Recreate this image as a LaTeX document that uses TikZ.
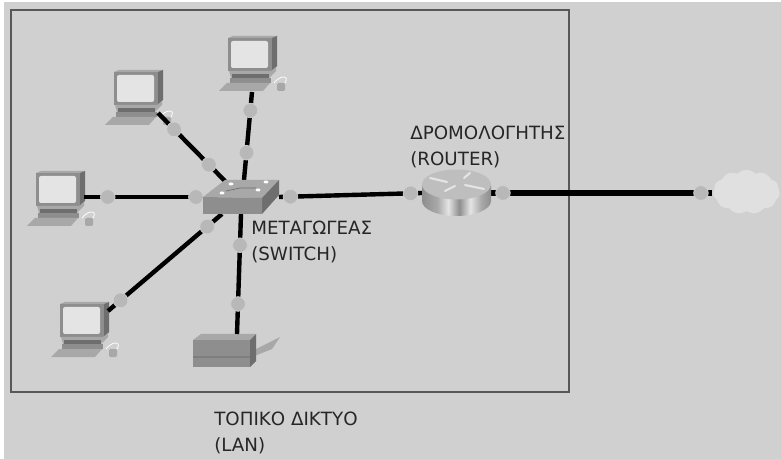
\documentclass[tikz,border=0pt]{standalone}
\usepackage{fontspec}
\setmainfont{DejaVu Sans}
\usepackage{xcolor}
\usepackage{tikz}
\usetikzlibrary{shapes.symbols}
\definecolor{panelgray}{HTML}{D0D0D0}
\definecolor{framegray}{HTML}{585858}
\definecolor{portgray}{HTML}{B8B8B8}
\definecolor{bodygray}{HTML}{8E8E8E}
\definecolor{darkgray}{HTML}{6E6E6E}
\definecolor{lightgray}{HTML}{A8A8A8}
\definecolor{screengray}{HTML}{E4E4E4}
\pgfdeclarehorizontalshading{drumshade}{100bp}{
  color(0bp)=(bodygray); color(25bp)=(bodygray); color(36bp)=(lightgray);
  color(44bp)=(screengray); color(52bp)=(bodygray); color(60bp)=(screengray);
  color(68bp)=(lightgray); color(75bp)=(bodygray); color(100bp)=(darkgray)}
\tikzset{
  link/.style={line width=3.3pt, black},
  wanlink/.style={line width=4.2pt, black},
  port/.style={circle, fill=portgray, draw=panelgray, line width=.5pt,
               minimum size=11pt, inner sep=0pt},
  lbl/.style={anchor=north west, align=left, inner sep=0pt, text=black!85,
              font=\fontsize{13.7}{19.5}\selectfont},
  pics/pccomp/.style={code={
    \fill[lightgray] (0,2) -- (5,0) -- (49,0) -- (44,2) -- cycle;
    \fill[darkgray] (44,2) -- (49,0) -- (49,30) -- (44,35) -- cycle;
    \fill[bodygray] (0,2) rectangle (44,35);
    \fill[screengray, rounded corners=1.5pt] (3,5) rectangle (40,32);
    \fill[lightgray] (1,35) -- (43,35) -- (48,31) -- (48,35) -- (41,42) -- (3,42) -- cycle;
    \fill[darkgray] (4,38) rectangle (41,42);
    \fill[bodygray] (2,42) rectangle (43,47);
    \fill[lightgray] (-9,55) -- (-1,47) -- (42,47) -- (35,55) -- cycle;
    \fill[lightgray, rounded corners=1pt] (49,47) rectangle (57,55);
    \draw[white, line width=.6pt] (46,47) .. controls (52,39) and (62,39) .. (57,47);
  }}
}
\begin{document}
\begin{tikzpicture}[x=.75pt,y=-.75pt]
  \useasboundingbox (0,0) rectangle (781,459);
  \fill[white] (0,0) rectangle (781,459);
  \fill[panelgray] (4,2) rectangle (781,459);
  \draw[framegray, line width=1.1pt] (11,10) rectangle (569,392);

  % computers
  \pic at (228,36) {pccomp};
  \pic at (114,70) {pccomp};
  \pic at (36,171) {pccomp};
  \pic at (60,302) {pccomp};

  % printer
  \fill[lightgray] (252,351) -- (280,337) -- (272,349) -- (252,357) -- cycle;
  \fill[lightgray] (193,340) -- (201,334) -- (256,334) -- (250,340) -- cycle;
  \fill[darkgray] (250,340) -- (256,334) -- (256,361) -- (250,367) -- cycle;
  \fill[bodygray] (193,340) rectangle (250,367);
  \fill[darkgray!50!bodygray] (193,356) rectangle (250,358);

  \coordinate (pcA) at (252,92);
  \coordinate (pcB) at (158,113);
  \coordinate (pcC) at (84,197);
  \coordinate (pcD) at (108,311);
  \coordinate (printer) at (237,334);
  \coordinate (swA) at (244,180);
  \coordinate (swB) at (225,181);
  \coordinate (swC) at (203,197);
  \coordinate (swD) at (222,214);
  \coordinate (swE) at (241,214);
  \coordinate (swF) at (279,197);
  \coordinate (rtA) at (422,193);
  \coordinate (rtB) at (491,193);
  \coordinate (wan) at (712,193);

  \draw[link] (pcA) -- node[port,pos=.21] (portA1) {} node[port,pos=.69] (portA2) {} (swA);
  \draw[link] (pcB) -- node[port,pos=.24] (portB1) {} node[port,pos=.76] (portB2) {} (swB);
  \draw[link] (pcC) -- node[port,pos=.20] (portC1) {} node[port,pos=.94] (portC2) {} (swC);
  \draw[link] (pcD) -- node[port,pos=.11] (portD1) {} node[port,pos=.87] (portD2) {} (swD);
  \draw[link] (printer) -- node[port,pos=.25] (portE1) {} node[port,pos=.74] (portE2) {} (swE);
  \draw[link] (swF) -- node[port,pos=.08] (portF1) {} node[port,pos=.92] (portF2) {} (rtA);
  \draw[wanlink] (rtB) -- node[port,pos=.054] (portG1) {} node[port,pos=.95] (portG2) {} (wan);

  % switch
  \fill[lightgray] (203,197) -- (225,180) -- (279,180) -- (262,198) -- cycle;
  \fill[darkgray] (262,198) -- (279,180) -- (279,195) -- (262,214) -- cycle;
  \fill[bodygray] (203,197) -- (262,198) -- (262,214) -- (203,214) -- cycle;
  \draw[darkgray, line width=.5pt] (226,191) -- (240,188) -- (256,188);
  \foreach \lx/\ly in {231/184,266/182,222/193,258/190}
    \fill[white] (\lx,\ly) ellipse (2.5 and 1.5);

  % router
  \shade[shading=drumshade] (422,185) -- (422,201) arc[start angle=180,end angle=0,x radius=34.5,y radius=15]
    -- (491,185) -- cycle;
  \fill[lightgray!75!white] (456.5,184.5) ellipse (34.5 and 15);
  \foreach \sx/\sy/\ex/\ey in {430/178/447/182,464/178/470/173,445/191/455/186,465/185/484/189}
    \draw[screengray, line width=1.6pt, line cap=round] (\sx,\sy) -- (\ex,\ey);

  \node[cloud, cloud puffs=11, cloud puff arc=90, aspect=1.6, fill=screengray!80!panelgray, inner sep=0pt,
        minimum width=50pt, minimum height=33pt] (internet) at (746.5,192) {};

  \node[lbl] (routerlbl) at (410,126) {ΔΡΟΜΟΛΟΓΗΤΗΣ\\(ROUTER)};
  \node[lbl] (switchlbl) at (251,221) {ΜΕΤΑΓΩΓΕΑΣ\\(SWITCH)};
  \node[lbl] (lanlbl) at (214,412) {ΤΟΠΙΚΟ ΔΙΚΤΥΟ\\(LAN)};
\end{tikzpicture}
\end{document}
